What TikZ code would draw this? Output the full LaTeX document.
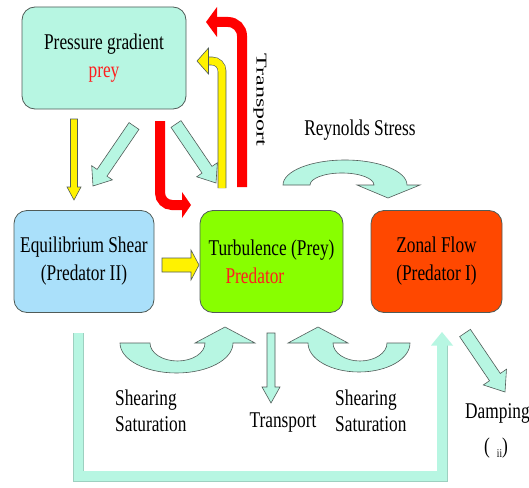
\documentclass[tikz,border=0pt]{standalone}
\usepackage{fontspec}
\setmainfont[FakeStretch=0.77]{Liberation Serif}
\newfontfamily\longfont[FakeStretch=1.6]{Liberation Serif}
\usetikzlibrary{calc}
\definecolor{aquaf}{RGB}{183,246,226}
\definecolor{skyf}{RGB}{170,224,250}
\definecolor{limef}{RGB}{136,255,0}
\definecolor{flame}{RGB}{255,72,0}
\definecolor{edgec}{RGB}{80,92,88}
\definecolor{preyred}{RGB}{255,30,30}
\tikzstyle{box}=[draw=edgec, line width=0.8pt, rounded corners=13pt, align=center, inner sep=0, minimum height=102pt, font=\fontsize{22.5}{28}\selectfont]
\tikzstyle{lbl}=[inner sep=0, font=\fontsize{22.5}{26}\selectfont]
\tikzstyle{ba}=[draw=edgec, line width=0.6pt, line join=miter]
\tikzstyle{bent}=[line width=10pt, rounded corners=12pt]
\newcommand{\blockarrow}[6]{%
  \path ($(#2)!#5!(#1)$) coordinate (hb);
  \draw[ba, fill=#6] ($(#1)!#3!-90:(#2)$) -- ($(hb)!#3!-90:(#2)$) -- ($(hb)!#4!-90:(#2)$) -- (#2)
    -- ($(hb)!#4!90:(#2)$) -- ($(hb)!#3!90:(#2)$) -- ($(#1)!#3!90:(#2)$) -- cycle;}

\begin{document}
\begin{tikzpicture}[x=1pt, y=-1pt]
\useasboundingbox[fill=white] (0,0) rectangle (529,487);
% boxes
\node at (104,58)[box, fill=aquaf, minimum width=164pt](pg){Pressure gradient\\\textcolor{preyred}{prey}};
\node at (84,261.5)[box, fill=skyf, minimum width=140pt](eq){Equilibrium Shear\\(Predator II)};
\node at (271.5,261.5)[box, fill=limef, minimum width=143pt, align=left](tb){Turbulence (Prey)\\\hspace*{17pt}\textcolor{preyred}{Predator}};
\node at (436.5,261.5)[box, fill=flame, minimum width=131pt](zf){Zonal Flow\\(Predator I)};
% labels
\node at (260,100)[lbl, rotate=-90, font=\longfont\fontsize{15}{15}\selectfont](tr1){Transport};
\node at (360,130)[lbl](rs){Reynolds Stress};
\node at (115,411)[lbl, anchor=west, align=left](ss1){Shearing\\Saturation};
\node at (283,423)[lbl](tr2){Transport};
\node at (335,411)[lbl, anchor=west, align=left](ss2){Shearing\\Saturation};
\node at (465,413)[lbl, anchor=west](dmp){Damping};
\node at (496,448)[lbl](gam){(\hspace{7pt}\raisebox{-4pt}{\fontsize{12}{12}\selectfont ii})};
% straight arrows
\coordinate (yd0) at (74,119); \coordinate (yd1) at (74,200);
\coordinate (al0) at (134,126); \coordinate (al1) at (93,186);
\coordinate (ar0) at (176,124); \coordinate (ar1) at (216,183);
\coordinate (yr0) at (162,265); \coordinate (yr1) at (199,265);
\coordinate (td0) at (271,333); \coordinate (td1) at (271,403);
\coordinate (dp0) at (465,333); \coordinate (dp1) at (505,392);
\blockarrow{yd0}{yd1}{3.5pt}{7pt}{13pt}{yellow}
\blockarrow{al0}{al1}{6pt}{12.5pt}{16pt}{aquaf}
\blockarrow{ar0}{ar1}{6pt}{12.5pt}{16pt}{aquaf}
\blockarrow{yr0}{yr1}{7pt}{15pt}{8pt}{yellow}
\blockarrow{td0}{td1}{4pt}{9pt}{16pt}{aquaf}
\blockarrow{dp0}{dp1}{6.5pt}{14pt}{18pt}{aquaf}
% bent arrows
\coordinate (rd0) at (160,121); \coordinate (rd1) at (182,205);
\draw[bent, red] (rd0) |- (rd1);
\fill[red] (182,192) -- (191,205) -- (182,218) -- cycle;
\coordinate (ru0) at (242,187); \coordinate (ru1) at (217,22);
\draw[bent, red, rounded corners=14pt] (ru0) |- (ru1);
\fill[red] (217,7) -- (206,22) -- (217,37) -- cycle;
\coordinate (yu0) at (222,188); \coordinate (yu1) at (208,61);
\draw[bent, line width=8.6pt, edgec, rounded corners=10pt] (yu0) |- (yu1);
\draw[bent, line width=7.4pt, yellow, rounded corners=10pt] (yu0) |- (yu1);
\draw[ba, fill=yellow] (208.5,48) -- (197,61) -- (208.5,74) -- cycle;
% feedback arrow
\coordinate (fb0) at (78.5,333); \coordinate (fb1) at (442,345);
\draw[line width=11pt, aquaf!75!edgec] (fb0) -- (78.5,476) -| (fb1);
\draw[line width=9.8pt, aquaf] (fb0) -- (78.5,476) -| (fb1);
\fill[aquaf] (431,345.5) -- (442,332) -- (453,345.5) -- cycle;
% curved arrows
\draw[ba, fill=aquaf] (283,185) arc[start angle=180, end angle=360, x radius=62, y radius=25]
  -- (420,185) -- (388,198) -- (357,185) -- (374,185)
  arc[start angle=360, end angle=180, x radius=32, y radius=12] -- cycle;
\draw[ba, fill=aquaf] (120,343) arc[start angle=180, end angle=0, x radius=56.5, y radius=30]
  -- (255,343) -- (225,327) -- (195,343) -- (205,343)
  arc[start angle=0, end angle=180, x radius=27.5, y radius=18] -- cycle;
\draw[ba, fill=aquaf] (410,343) arc[start angle=0, end angle=180, x radius=51, y radius=29]
  -- (288,343) -- (318,327) -- (348,343) -- (333,343)
  arc[start angle=180, end angle=0, x radius=27, y radius=18] -- cycle;
\end{tikzpicture}
\end{document}
